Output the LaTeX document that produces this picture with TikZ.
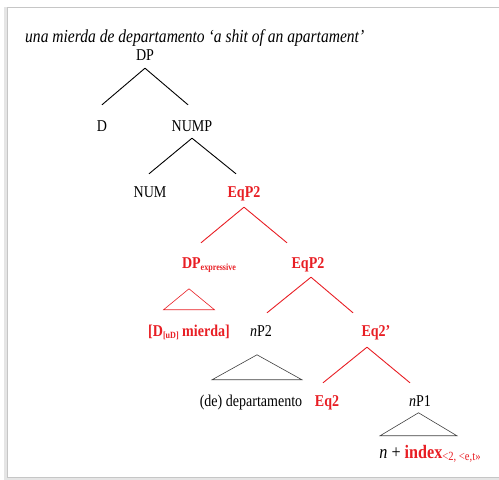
\documentclass[tikz,border=0pt]{standalone}
\usepackage{fontspec}
\setmainfont{Liberation Serif}[FakeStretch=0.85]
\usetikzlibrary{positioning}
\definecolor{eqred}{RGB}{232,30,36}
\newcommand{\lowsub}[2][9.5]{\raisebox{-2.5pt}{\fontsize{#1}{10}\selectfont #2}}

\begin{document}
\begin{tikzpicture}[
        x=1pt, y=1pt,
        cat/.style={font=\fontsize{16.5}{18}\selectfont, text height=10pt, text depth=3pt, inner sep=1pt},
        eq/.style={cat, text=eqred, font=\fontsize{16.5}{18}\selectfont\bfseries},
        br/.style={line width=0.9pt},
        eqbr/.style={br, draw=eqred},
        roof/.style={line width=0.6pt, draw=black!75}
    ]
        \useasboundingbox (0,0) rectangle (499,480);
        % frame with a soft shadow on the left and bottom
        \fill[gray!20] (4,0) rectangle (8,473);
        \fill[gray!20] (4,0) rectangle (499,3);
        \draw[gray!45, line width=0.8pt] (499,473) -- (7,473) -- (7,3) -- (499,3);

        \node[anchor=base west, inner sep=0pt, font=\fontsize{18.3}{20}\selectfont\itshape] (title) at (25,437)
              {una mierda de departamento ‘a shit of an apartament’};

        \node[cat] (dp)     at (145,423) {DP};
        \node[cat] (d)      at (102,352) {D};
        \node[cat] (nump)   at (192,352) {NUMP};
        \node[cat] (num)    at (150,286) {NUM};
        \node[eq]  (eqpa)   at (244,286) {EqP2};
        \node[eq]  (dpx)    at (209,215) {DP\lowsub{expressive}};
        \node[eq]  (eqpb)   at (308,215) {EqP2};
        \node[eq]  (mierda) at (189,147) {[D\lowsub{[uD]} mierda]};
        \node[cat] (npb)    at (261,147) {\textit{n}P2};
        \node[eq]  (eqbar)  at (376,147) {Eq2’};
        \node[cat] (depto)  at (251,77)  {(de) departamento};
        \node[eq]  (eqhead) at (327,77)  {Eq2};
        \node[cat] (npa)    at (420,77)  {\textit{n}P1};
        \node[cat, font=\fontsize{19}{20}\selectfont] (idx) at (430,25)
              {\textit{n} + \textcolor{eqred}{\textbf{index}\lowsub[12.5]{<2, <e,t>>}}};

        % black branches
        \draw[br] ([yshift=-3.5pt]dp.south) -- ([yshift=15.5pt]d.north);
        \draw[br] ([yshift=-3.5pt]dp.south) -- ([xshift=-4pt, yshift=15.5pt]nump.north);
        \draw[br] ([yshift=-2.5pt]nump.south) -- ([xshift=-1pt, yshift=12.5pt]num.north);
        \draw[br] ([yshift=-2.5pt]nump.south) -- ([xshift=-8pt, yshift=12.5pt]eqpa.north);

        % red branches of the equative
        \draw[eqbr] ([yshift=-5.5pt]eqpa.south) -- ([xshift=-8pt, yshift=14.5pt]dpx.north);
        \draw[eqbr] ([yshift=-5.5pt]eqpa.south) -- ([xshift=-21pt, yshift=14.5pt]eqpb.north);
        \draw[eqbr] ([xshift=3pt, yshift=-4.5pt]eqpb.south) -- ([xshift=6pt, yshift=12.5pt]npb.north);
        \draw[eqbr] ([xshift=3pt, yshift=-4.5pt]eqpb.south) -- ([xshift=-23pt, yshift=12.5pt]eqbar.north);
        \draw[eqbr] ([xshift=-9pt, yshift=-6.5pt]eqbar.south) -- ([xshift=-4pt, yshift=12.5pt]eqhead.north);
        \draw[eqbr] ([xshift=-9pt, yshift=-6.5pt]eqbar.south) -- ([xshift=-10pt, yshift=12.5pt]npa.north);

        % roofs
        \draw[roof, draw=eqred] ([xshift=-25.5pt, yshift=15.5pt]mierda.north) -- ++(25.5,21) -- ++(25.5,-21) -- cycle;
        \draw[roof] ([xshift=-39pt, yshift=15.5pt]depto.north) -- ++(45,25) -- ++(45,-25) -- cycle;
        \draw[roof] ([xshift=-50pt, yshift=11.5pt]idx.north) -- ++(38.5,23) -- ++(38.5,-23) -- cycle;
    \end{tikzpicture}
\end{document}
